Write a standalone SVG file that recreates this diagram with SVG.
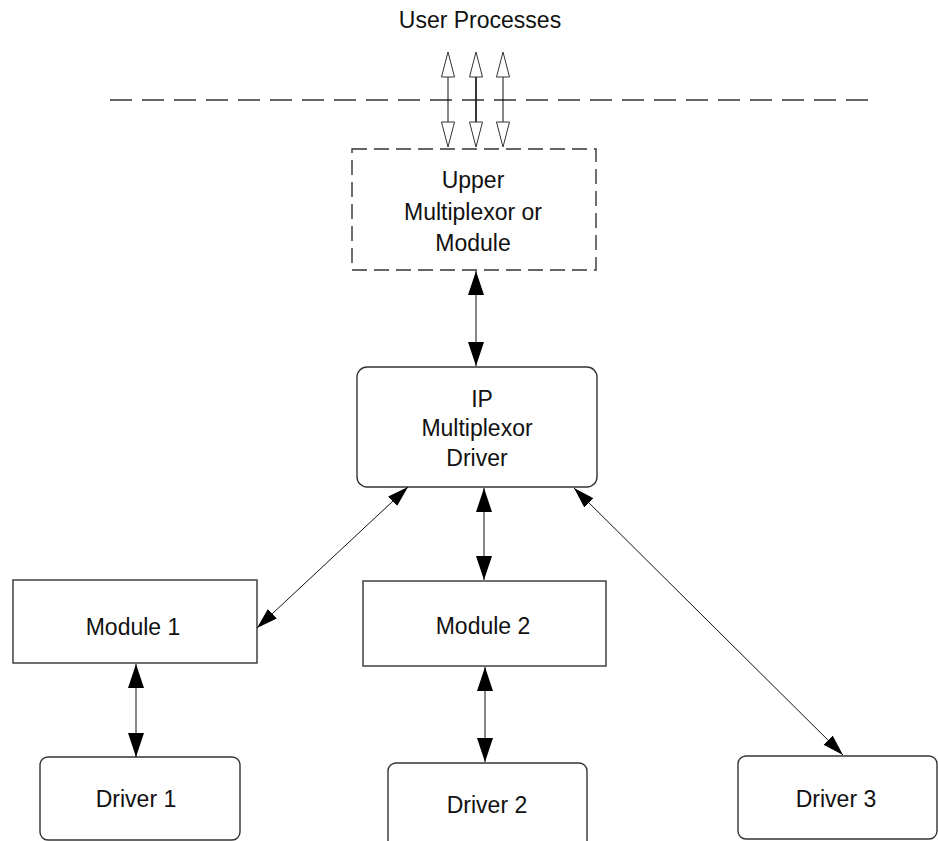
<svg xmlns="http://www.w3.org/2000/svg" width="938" height="841" viewBox="0 0 938 841">
<style>
text{font-family:"Liberation Sans",Arial,sans-serif;font-size:23px;fill:#111;text-anchor:middle}
.box{fill:#fff;stroke:#333;stroke-width:1.4}
.dbox{fill:#fff;stroke:#333;stroke-width:1.4;stroke-dasharray:15 7}
.c{stroke:#111;stroke-width:1;fill:none}
.open{fill:#fff;stroke:#333;stroke-width:1}
</style>
<defs>
<marker id="ah" markerUnits="userSpaceOnUse" markerWidth="26" markerHeight="18" viewBox="0 0 26 18" refX="24" refY="9" orient="auto-start-reverse">
<path d="M0,1 L24,9 L0,17 Z" fill="#000"/>
</marker>
<marker id="ahs" markerUnits="userSpaceOnUse" markerWidth="22" markerHeight="16" viewBox="0 0 22 16" refX="21" refY="8" orient="auto-start-reverse">
<path d="M0,1.5 L21,8 L0,14.5 Z" fill="#000"/>
</marker>
</defs>
<text x="480" y="28">User Processes</text>
<line x1="110" y1="100" x2="870" y2="100" stroke="#333" stroke-width="1.3" stroke-dasharray="22 10"/>
<g id="user-arrows">
<line class="c" x1="448" y1="77" x2="448" y2="122"/>
<line x1="476" y1="77" x2="476" y2="122" stroke="#222" stroke-width="1.8"/>
<line class="c" x1="503" y1="77" x2="503" y2="122"/>
<path class="open" d="M448,52 L454.5,77 L441.5,77 Z"/>
<path class="open" d="M476,52 L482.5,77 L469.5,77 Z"/>
<path class="open" d="M503,52 L509.5,77 L496.5,77 Z"/>
<path class="open" d="M448,147 L454.5,122 L441.5,122 Z"/>
<path class="open" d="M476,147 L482.5,122 L469.5,122 Z"/>
<path class="open" d="M503,147 L509.5,122 L496.5,122 Z"/>
</g>
<g id="upper">
<rect class="dbox" x="352" y="149" width="244" height="121"/>
<text x="473" y="188">Upper</text>
<text x="473" y="220">Multiplexor or</text>
<text x="473" y="251">Module</text>
</g>
<g id="ip">
<rect class="box" x="357" y="367" width="240" height="120" rx="10"/>
<text x="482" y="407">IP</text>
<text x="477" y="436">Multiplexor</text>
<text x="477" y="466">Driver</text>
</g>
<g id="module1">
<rect class="box" x="13" y="580" width="244" height="83"/>
<text x="133" y="635">Module 1</text>
</g>
<g id="module2">
<rect class="box" x="363" y="581" width="243" height="85"/>
<text x="483" y="634">Module 2</text>
</g>
<g id="driver1">
<rect class="box" x="40" y="757" width="200" height="83" rx="8"/>
<text x="136" y="807">Driver 1</text>
</g>
<g id="driver2">
<rect class="box" x="388" y="763" width="199" height="90" rx="8"/>
<text x="487" y="813">Driver 2</text>
</g>
<g id="driver3">
<rect class="box" x="738" y="756" width="199" height="83" rx="8"/>
<text x="836" y="807">Driver 3</text>
</g>
<g id="connectors">
<line class="c" x1="476" y1="271" x2="476" y2="366" marker-start="url(#ah)" marker-end="url(#ah)"/>
<line class="c" x1="484" y1="488" x2="484" y2="580" marker-start="url(#ah)" marker-end="url(#ah)"/>
<line class="c" x1="136" y1="664" x2="136" y2="757" marker-start="url(#ah)" marker-end="url(#ah)"/>
<line class="c" x1="485" y1="667" x2="485" y2="762" marker-start="url(#ah)" marker-end="url(#ah)"/>
<line class="c" x1="408" y1="487" x2="257" y2="628" marker-start="url(#ahs)" marker-end="url(#ahs)"/>
<line class="c" x1="574" y1="488" x2="843" y2="755" marker-start="url(#ahs)" marker-end="url(#ahs)"/>
</g>
</svg>
